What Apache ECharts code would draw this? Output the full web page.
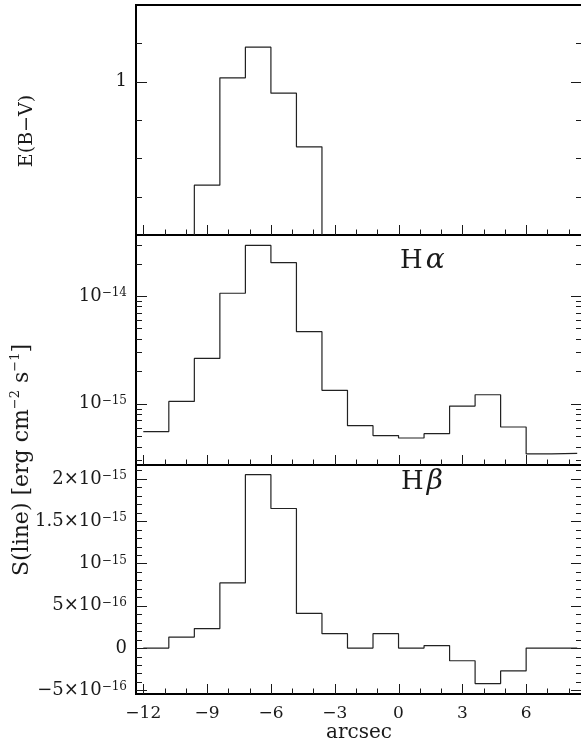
<!DOCTYPE html>
<html>
<head>
<meta charset="utf-8">
<script src="https://cdn.jsdelivr.net/npm/echarts@6/dist/echarts.min.js"></script>
<style>
  html, body { margin: 0; padding: 0; background: #fff; }
  #chart { width: 581px; height: 747px; }
</style>
</head>
<body>
<div id="chart"></div>
<script>
// Edges of the 1.2" bins along the slit (arcsec)
const binEdges = [-12, -10.8, -9.6, -8.4, -7.2, -6.0, -4.8, -3.6, -2.4, -1.2, 0, 1.2, 2.4, 3.6, 4.8, 6.0, 7.2, 8.4];
// Colour excess per bin (null where it is not measured)
const ebv = [null, null, 0.73, 1.01, 1.09, 0.97, 0.83, null, null, null, null, null, null, null, null, null, null];
// Line fluxes per bin, erg cm^-2 s^-1
const halpha = [5.5e-16, 1.05e-15, 2.63e-15, 1.06e-14, 2.95e-14, 2.04e-14, 4.66e-15, 1.33e-15, 6.25e-16, 5.05e-16,
                4.8e-16, 5.26e-16, 9.5e-16, 1.21e-15, 6.07e-16, 3.41e-16, 3.46e-16];
const hbeta = [0, 1.3e-16, 2.3e-16, 7.7e-16, 2.05e-15, 1.65e-15, 4.1e-16, 1.7e-16, 0, 1.7e-16,
               0, 3e-17, -1.5e-16, -4.2e-16, -2.7e-16, 0, 0];
// Labelled tick values
const xTickLabels = [-12, -9, -6, -3, 0, 3, 6];
const ebvTickLabels = [1];
const haTickLabels = [1e-15, 1e-14];
const hbTickLabels = [-5e-16, 0, 5e-16, 1e-15, 1.5e-15, 2e-15];

const FONT = 'DejaVu Serif';
const INK = '#1a1a1a';
const X_MIN = -12.343, X_MAX = 8.626;

const panels = [
  { top: 5,   height: 230, type: 'value', min: 0.6, max: 1.2 },
  { top: 235, height: 230, type: 'log',   min: 2.693e-16, max: 3.686e-14 },
  { top: 465, height: 229, type: 'value', min: -5.43e-16, max: 2.164e-15 }
];

// Histogram outline: flat top over every bin, drop to the floor where data stop
function outline(values, floor) {
  const pts = [];
  let prev = null;
  values.forEach((v, i) => {
    if (v == null) {
      if (prev != null) pts.push([binEdges[i], floor]);
    } else {
      if (prev == null && i > 0) pts.push([binEdges[i], floor]);
      pts.push([binEdges[i], v], [binEdges[i + 1], v]);
    }
    prev = v;
  });
  return pts;
}

// Tick marks: [x, y, kind (0 = x tick, 1 = y tick), major]
function xTicks(yRef) {
  const out = [];
  for (let x = -12; x <= 8; x++) out.push([x, yRef, 0, x % 3 === 0 ? 1 : 0]);
  return out;
}
function ebvTicks() {
  const out = xTicks(0.6);
  for (let k = 7; k <= 11; k++) out.push([X_MIN, k / 10, 1, k === 10 ? 1 : 0]);
  return out;
}
function haTicks() {
  const out = xTicks(panels[1].min);
  for (let e = -16; e <= -14; e++) {
    for (let k = 1; k <= 9; k++) {
      const v = k * Math.pow(10, e);
      if (v > panels[1].min && v < panels[1].max) out.push([X_MIN, v, 1, k === 1 ? 1 : 0]);
    }
  }
  return out;
}
function hbTicks() {
  const out = xTicks(0);
  for (let k = -5; k <= 21; k++) out.push([X_MIN, k * 1e-16, 1, k % 5 === 0 ? 1 : 0]);
  return out;
}

function renderTick(params, api) {
  const cs = params.coordSys;
  const p = api.coord([api.value(0), api.value(1)]);
  const major = api.value(3) === 1;
  const style = { stroke: INK, lineWidth: 1 };
  if (api.value(2) === 0) {
    const x = Math.round(p[0]) + 0.5;
    const yb = cs.y + cs.height;
    return { type: 'line', shape: { x1: x, y1: yb, x2: x, y2: yb - (major ? 10 : 5.5) }, style };
  }
  const y = Math.round(p[1]) + 0.5;
  const len = major ? 11 : 6;
  return {
    type: 'group',
    children: [
      { type: 'line', shape: { x1: cs.x, y1: y, x2: cs.x + len, y2: y }, style },
      { type: 'line', shape: { x1: cs.x + cs.width, y1: y, x2: cs.x + cs.width - len, y2: y }, style }
    ]
  };
}

const minus = '\u2212';
function sciLabel(v) {
  if (v === 0) return '{b|0}';
  const sign = v < 0 ? minus : '';
  const a = Math.abs(v);
  const e = Math.floor(Math.log10(a) + 1e-9);
  const m = Math.round(a / Math.pow(10, e) * 100) / 100;
  const expo = (e < 0 ? minus : '') + Math.abs(e);
  const mant = m === 1 ? '' : m + '\u00d7';
  return '{b|' + sign + mant + '10}{s|' + expo + '}';
}

const yRich = {
  b: { fontFamily: FONT, fontSize: 18, color: INK },
  s: { fontFamily: FONT, fontSize: 12, color: INK, verticalAlign: 'top' }
};

const chart = echarts.init(document.getElementById('chart'));

chart.setOption({
  animation: false,
  backgroundColor: '#fff',
  grid: panels.map(p => ({
    left: 136, width: 446, top: p.top, height: p.height,
    show: true, borderColor: '#000', borderWidth: 2, backgroundColor: 'transparent',
    outerBoundsMode: 'none'
  })),
  xAxis: panels.map((p, i) => ({
    gridIndex: i, type: 'value', min: X_MIN, max: X_MAX,
    axisLine: { show: false }, axisTick: { show: false }, splitLine: { show: false },
    axisLabel: i === 2 ? {
      customValues: xTickLabels,
      formatter: v => (v < 0 ? minus + Math.abs(v) : String(v)),
      fontFamily: FONT, fontSize: 17, color: INK, margin: 11
    } : { show: false },
    name: i === 2 ? 'arcsec' : '',
    nameLocation: 'middle', nameGap: 22,
    nameTextStyle: { fontFamily: FONT, fontSize: 20, color: INK }
  })),
  yAxis: [
    {
      gridIndex: 0, type: 'value', min: panels[0].min, max: panels[0].max,
      axisLine: { show: false }, axisTick: { show: false }, splitLine: { show: false },
      axisLabel: { customValues: ebvTickLabels, formatter: v => String(Math.round(v * 10) / 10),
                   fontFamily: FONT, fontSize: 18, color: INK, margin: 9 }
    },
    {
      gridIndex: 1, type: 'log', logBase: 10, min: panels[1].min, max: panels[1].max,
      axisLine: { show: false }, axisTick: { show: false }, splitLine: { show: false },
      axisLabel: { customValues: haTickLabels, formatter: sciLabel, rich: yRich,
                   fontFamily: FONT, fontSize: 18, color: INK, margin: 9 }
    },
    {
      gridIndex: 2, type: 'value', min: panels[2].min, max: panels[2].max,
      axisLine: { show: false }, axisTick: { show: false }, splitLine: { show: false },
      axisLabel: { customValues: hbTickLabels, formatter: sciLabel, rich: yRich,
                   fontFamily: FONT, fontSize: 18, color: INK, margin: 9 }
    }
  ],
  series: [
    { type: 'line', xAxisIndex: 0, yAxisIndex: 0, data: outline(ebv, panels[0].min),
      symbol: 'none', silent: true, lineStyle: { color: '#222', width: 1.2 } },
    { type: 'line', xAxisIndex: 1, yAxisIndex: 1, data: outline(halpha, panels[1].min),
      symbol: 'none', silent: true, lineStyle: { color: '#222', width: 1.2 } },
    { type: 'line', xAxisIndex: 2, yAxisIndex: 2, data: outline(hbeta, panels[2].min),
      symbol: 'none', silent: true, lineStyle: { color: '#222', width: 1.2 } },
    { type: 'custom', xAxisIndex: 0, yAxisIndex: 0, data: ebvTicks(), renderItem: renderTick,
      dimensions: ['x', 'y', 'kind', 'major'], encode: { x: 0, y: 1 }, silent: true },
    { type: 'custom', xAxisIndex: 1, yAxisIndex: 1, data: haTicks(), renderItem: renderTick,
      dimensions: ['x', 'y', 'kind', 'major'], encode: { x: 0, y: 1 }, silent: true },
    { type: 'custom', xAxisIndex: 2, yAxisIndex: 2, data: hbTicks(), renderItem: renderTick,
      dimensions: ['x', 'y', 'kind', 'major'], encode: { x: 0, y: 1 }, silent: true }
  ],
  graphic: [
    {
      type: 'text', x: 27, y: 131, rotation: Math.PI / 2, silent: true,
      style: { text: 'E(B' + minus + 'V)', fontFamily: FONT, fontSize: 19, fill: INK,
               align: 'center', verticalAlign: 'middle' }
    },
    {
      type: 'text', x: 22, y: 460, rotation: Math.PI / 2, silent: true,
      style: {
        text: '{b|S(line) [erg cm}{s|' + minus + '2}{b| s}{s|' + minus + '1}{b|]}',
        align: 'center', verticalAlign: 'middle',
        rich: {
          b: { fontFamily: FONT, fontSize: 22, fill: INK, lineHeight: 25 },
          s: { fontFamily: FONT, fontSize: 13, fill: INK, verticalAlign: 'top' }
        }
      }
    },
    {
      type: 'text', x: 400, y: 261, silent: true,
      style: {
        text: '{h|H}{g|\u03b1}', align: 'left', verticalAlign: 'middle',
        rich: {
          h: { fontFamily: FONT, fontSize: 26, fill: INK },
          g: { fontFamily: FONT, fontSize: 28, fontStyle: 'italic', fill: INK, padding: [0, 0, 0, 3] }
        }
      }
    },
    {
      type: 'text', x: 401, y: 482, silent: true,
      style: {
        text: '{h|H}{g|\u03b2}', align: 'left', verticalAlign: 'middle',
        rich: {
          h: { fontFamily: FONT, fontSize: 26, fill: INK },
          g: { fontFamily: FONT, fontSize: 28, fontStyle: 'italic', fill: INK, padding: [0, 0, 0, 3] }
        }
      }
    }
  ]
});
</script>
</body>
</html>
